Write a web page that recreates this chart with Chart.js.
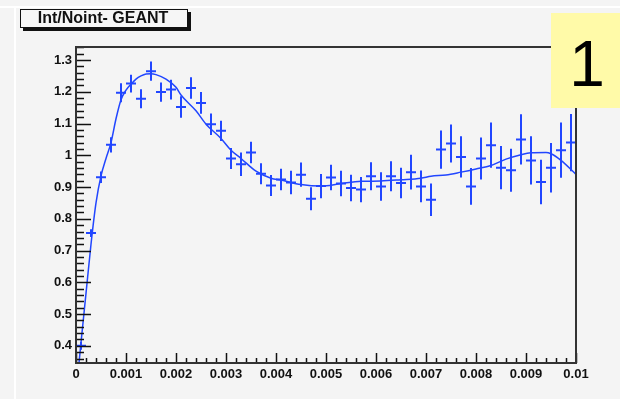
<!DOCTYPE html>
<html>
<head>
<meta charset="utf-8">
<script src="https://cdn.jsdelivr.net/npm/chart.js@4.4.0/dist/chart.umd.min.js"></script>
<style>
  html, body { margin: 0; padding: 0; background: #f4f4f4; }
  #wrap { width: 620px; height: 399px; }
</style>
</head>
<body>
<div id="wrap"><canvas id="ratioChart" width="620" height="399"></canvas></div>
<script>
// --- histogram bins (centre, value, error) ---
const binCenters = [
  0.0001, 0.0003, 0.0005, 0.0007, 0.0009, 0.0011, 0.0013, 0.0015, 0.0017, 0.0019,
  0.0021, 0.0023, 0.0025, 0.0027, 0.0029, 0.0031, 0.0033, 0.0035, 0.0037, 0.0039,
  0.0041, 0.0043, 0.0045, 0.0047, 0.0049, 0.0051, 0.0053, 0.0055, 0.0057, 0.0059,
  0.0061, 0.0063, 0.0065, 0.0067, 0.0069, 0.0071, 0.0073, 0.0075, 0.0077, 0.0079,
  0.0081, 0.0083, 0.0085, 0.0087, 0.0089, 0.0091, 0.0093, 0.0095, 0.0097, 0.0099
];
const ratioValues = [
  0.400, 0.755, 0.931, 1.033, 1.197, 1.226, 1.178, 1.265, 1.199, 1.207,
  1.152, 1.212, 1.165, 1.098, 1.077, 0.990, 0.972, 1.009, 0.942, 0.905,
  0.924, 0.914, 0.939, 0.863, 0.903, 0.930, 0.911, 0.897, 0.892, 0.934,
  0.902, 0.934, 0.913, 0.947, 0.902, 0.860, 1.018, 1.037, 0.995, 0.902,
  0.990, 1.032, 0.961, 0.953, 1.050, 0.984, 0.916, 0.961, 1.016, 1.040
];
const ratioErrors = [
  0.012, 0.012, 0.018, 0.024, 0.030, 0.028, 0.030, 0.030, 0.030, 0.031,
  0.034, 0.034, 0.034, 0.034, 0.032, 0.033, 0.037, 0.034, 0.033, 0.033,
  0.034, 0.037, 0.038, 0.036, 0.038, 0.040, 0.040, 0.042, 0.040, 0.044,
  0.045, 0.047, 0.048, 0.055, 0.050, 0.051, 0.060, 0.060, 0.065, 0.058,
  0.066, 0.071, 0.068, 0.068, 0.079, 0.076, 0.070, 0.078, 0.087, 0.090
];
const binHalfWidth = 0.0001;

// --- fitted curve ---
const fitX = [
  0.0, 0.0001, 0.0002, 0.0003, 0.0004, 0.0005, 0.0006, 0.0007, 0.0008, 0.0009,
  0.0010, 0.0011, 0.0012, 0.0013, 0.0014, 0.0015, 0.0016, 0.0018, 0.0020, 0.0021,
  0.0024, 0.0026, 0.0029, 0.0031, 0.0033, 0.0036, 0.0039, 0.0041, 0.0045, 0.0049,
  0.0053, 0.0057, 0.0061, 0.0065, 0.0069, 0.0071, 0.0074, 0.0077, 0.0080, 0.0083,
  0.0086, 0.0089, 0.0091, 0.0094, 0.0095, 0.0097, 0.0100
];
const fitY = [
  0.250, 0.410, 0.565, 0.720, 0.850, 0.935, 0.990, 1.040, 1.115, 1.175,
  1.205, 1.224, 1.240, 1.250, 1.256, 1.257, 1.254, 1.240, 1.214, 1.190,
  1.140, 1.098, 1.053, 1.016, 0.990, 0.950, 0.928, 0.922, 0.908, 0.903,
  0.911, 0.918, 0.919, 0.923, 0.928, 0.934, 0.938, 0.947, 0.957, 0.968,
  0.988, 1.002, 1.008, 1.009, 1.005, 0.984, 0.940
];

// --- axes ---
const xTickValues = [0, 0.001, 0.002, 0.003, 0.004, 0.005, 0.006, 0.007, 0.008, 0.009, 0.01];
const xTickLabels = ["0", "0.001", "0.002", "0.003", "0.004", "0.005", "0.006", "0.007", "0.008", "0.009", "0.01"];
const yTickValues = [0.4, 0.5, 0.6, 0.7, 0.8, 0.9, 1.0, 1.1, 1.2, 1.3];
const yTickLabels = ["0.4", "0.5", "0.6", "0.7", "0.8", "0.9", "1", "1.1", "1.2", "1.3"];
const xRange = [0, 0.01];
const yRange = [0.346, 1.341];

const titleText = "Int/Noint- GEANT";
const padLabel = "1";

const BLUE = "#2146ff";
const FONT = "'Liberation Sans', Arial, Helvetica, sans-serif";

// ROOT-style pad decorations: frame, inward ticks, error crosses, title, pad number
const rootPad = {
  id: "rootPad",
  beforeDraw(chart) {
    const ctx = chart.ctx;
    ctx.save();
    ctx.fillStyle = "#f4f4f4";
    ctx.fillRect(0, 0, chart.width, chart.height);
    ctx.fillStyle = "#ffffff";
    ctx.fillRect(0, 6, chart.width, 2);
    ctx.fillRect(14, 8, 2, chart.height - 8);
    ctx.restore();
  },
  afterDatasetsDraw(chart) {
    const ctx = chart.ctx;
    const xs = chart.scales.x, ys = chart.scales.y;
    const a = chart.chartArea;

    // error crosses
    ctx.save();
    ctx.beginPath();
    ctx.rect(a.left, a.top, a.right - a.left, a.bottom - a.top);
    ctx.clip();
    ctx.strokeStyle = BLUE;
    ctx.lineWidth = 2;
    binCenters.forEach((c, i) => {
      const px = xs.getPixelForValue(c);
      const py = ys.getPixelForValue(ratioValues[i]);
      ctx.beginPath();
      ctx.moveTo(xs.getPixelForValue(c - binHalfWidth), py);
      ctx.lineTo(xs.getPixelForValue(c + binHalfWidth), py);
      ctx.moveTo(px, ys.getPixelForValue(ratioValues[i] + ratioErrors[i]));
      ctx.lineTo(px, ys.getPixelForValue(ratioValues[i] - ratioErrors[i]));
      ctx.stroke();
    });
    ctx.restore();

    // inward ticks
    ctx.save();
    ctx.strokeStyle = "#111";
    ctx.lineWidth = 1.5;
    ctx.beginPath();
    for (let k = 0; k <= 50; k++) {
      const v = xRange[0] + k * 0.0002;
      const px = Math.round(xs.getPixelForValue(v)) + 0.5;
      const len = (k % 5 === 0) ? 10 : 5;
      ctx.moveTo(px, a.bottom);
      ctx.lineTo(px, a.bottom - len);
    }
    for (let k = 0; k <= 60; k++) {
      const v = 0.34 + k * 0.02;
      if (v < yRange[0] || v > yRange[1]) continue;
      const py = Math.round(ys.getPixelForValue(v)) + 0.5;
      const major = Math.abs(v * 10 - Math.round(v * 10)) < 1e-6;
      ctx.moveTo(a.left, py);
      ctx.lineTo(a.left + (major ? 15 : 8), py);
    }
    ctx.stroke();

    // frame
    ctx.strokeStyle = "#333";
    ctx.lineWidth = 2;
    ctx.strokeRect(a.left, a.top, a.right - a.left, a.bottom - a.top);
    ctx.restore();
  },
  afterDraw(chart) {
    const ctx = chart.ctx;
    ctx.save();

    // title pave with shadow
    ctx.fillStyle = "#111";
    ctx.fillRect(23, 12, 168, 19);
    ctx.fillStyle = "#f6f6f6";
    ctx.fillRect(20, 9, 168, 19);
    ctx.strokeStyle = "#111";
    ctx.lineWidth = 1;
    ctx.strokeRect(20.5, 9.5, 167, 18);
    ctx.fillStyle = "#111";
    ctx.font = "bold 16px " + FONT;
    ctx.textAlign = "center";
    ctx.textBaseline = "middle";
    ctx.fillText(titleText, 103, 19);

    // pad number
    ctx.fillStyle = "#fffaa8";
    ctx.fillRect(551, 13, 69, 95);
    ctx.fillStyle = "#000";
    ctx.font = "64px " + FONT;
    ctx.textBaseline = "alphabetic";
    ctx.fillText(padLabel, 587, 86);
    ctx.restore();
  }
};

const ctx = document.getElementById("ratioChart").getContext("2d");
const ratioChart = new Chart(ctx, {
  type: "scatter",
  data: {
    datasets: [
      {
        label: "fit",
        type: "line",
        data: fitX.map((x, i) => ({ x: x, y: fitY[i] })),
        borderColor: BLUE,
        borderWidth: 1.5,
        pointRadius: 0,
        fill: false,
        showLine: true,
        cubicInterpolationMode: "monotone"
      },
      {
        label: titleText,
        data: binCenters.map((x, i) => ({ x: x, y: ratioValues[i] })),
        pointRadius: 0,
        showLine: false
      }
    ]
  },
  options: {
    responsive: false,
    animation: false,
    devicePixelRatio: 1,
    layout: { padding: { top: 47, right: 44, left: 0, bottom: 0 } },
    plugins: { legend: { display: false }, tooltip: { enabled: false } },
    scales: {
      x: {
        type: "linear",
        min: xRange[0],
        max: xRange[1],
        afterBuildTicks: s => { s.ticks = xTickValues.map(v => ({ value: v })); },
        afterFit: s => { s.height = 36; },
        ticks: {
          callback: (v, i) => xTickLabels[i],
          font: { family: FONT, size: 13, weight: "bold" },
          color: "#111",
          maxRotation: 0,
          autoSkip: false,
          padding: 4
        },
        grid: { display: false, drawTicks: false },
        border: { display: false }
      },
      y: {
        type: "linear",
        min: yRange[0],
        max: yRange[1],
        afterBuildTicks: s => { s.ticks = yTickValues.map(v => ({ value: v })); },
        afterFit: s => { s.width = 76; },
        ticks: {
          callback: (v, i) => yTickLabels[i],
          font: { family: FONT, size: 13, weight: "bold" },
          color: "#111",
          autoSkip: false,
          padding: 4
        },
        grid: { display: false, drawTicks: false },
        border: { display: false }
      }
    }
  },
  plugins: [rootPad]
});
</script>
</body>
</html>
